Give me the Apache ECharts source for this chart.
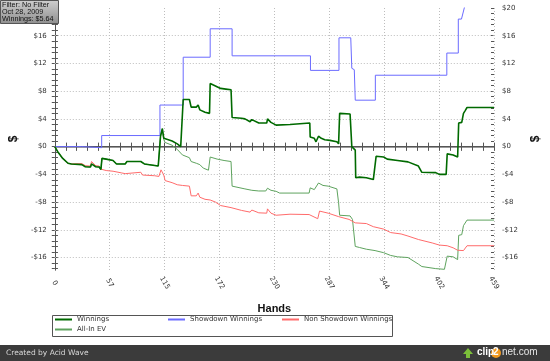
<!DOCTYPE html>
<html><head><meta charset="utf-8">
<script src="https://cdn.jsdelivr.net/npm/echarts@6/dist/echarts.min.js"></script>
<style>html,body{margin:0;padding:0;background:#fff}#c{width:550px;height:361px}</style>
</head><body><div id="c"></div><script>
// ---- data (hand, $) ----
const handTickCount = 8;
const handMax = 459;
const yLabelValues = [-16,-12,-8,-4,0,4,8,12,16,20];
const yLabelValuesLeft = [-16,-12,-8,-4,0,4,8,12,16];
const yGridValues = [-16,-12,-8,-4,4,8,12,16];

const winnings = [[0,0],[2.9,-0.7],[8.3,-1.7],[13.8,-2.4],[17.4,-2.5],[28.3,-2.6],[31.9,-2.9],[37.3,-2.95],[38.4,-2.5],[42.8,-2.9],[46.4,-2.95],[48.2,-3.3],[49.3,-1.7],[53.7,-1.8],[60.9,-2.0],[64.5,-2.5],[73.6,-2.5],[75.4,-2.15],[89.9,-2.15],[93.6,-2.5],[108.1,-2.8],[108.8,-2.8],[110.5,1.5],[112.4,2.6],[113.9,1.2],[115.3,1.0],[122.6,0.8],[128,0.4],[131.6,0],[133.4,0],[134.2,6.8],[140.7,6.8],[142.5,5.7],[147.9,5.7],[149.8,6.0],[151.6,5.3],[157,4.95],[161.7,4.8],[162.4,9.1],[167.9,8.75],[173.3,8.4],[178.8,8.3],[184.2,8.2],[185.3,4.2],[195.1,4.1],[198.7,4.0],[204.1,3.6],[205.9,3.9],[213.2,3.4],[221.5,3.4],[222.3,4.0],[225.9,3.5],[231.3,3.1],[245.8,3.2],[266.5,3.4],[266.9,1.4],[271.2,1.2],[273,0.7],[275.6,1.5],[278.5,1.2],[282.1,1.0],[287.5,0.9],[294.8,0.7],[296.6,0.4],[297.7,4.8],[308.6,4.7],[310.4,0],[314,-0.5],[314.5,-4.5],[318.4,-4.4],[325.6,-4.5],[332.9,-4.75],[334.7,-5.0],[335.8,-1.4],[343.7,-1.5],[347.4,-1.8],[358.2,-2.0],[369.1,-2.2],[380,-2.8],[383.6,-3.7],[398.1,-3.75],[401.8,-4.0],[409,-4.0],[410.1,-1.05],[416.3,-1.2],[421,-1.5],[422.1,3.4],[425.3,3.5],[427.1,4.8],[428.9,5.2],[430.8,5.64],[459,5.64]];

const showdown = [[0,0],[28.3,0],[28.3,-0.15],[49,-0.15],[49,1.6],[109.9,1.6],[109.9,6.0],[134.2,6.0],[134.2,12.9],[162.4,12.9],[162.4,17.0],[185.3,17.0],[185.3,13.1],[267.2,13.1],[267.2,11.0],[297,11.0],[297,15.7],[309.3,15.7],[310.4,11.3],[313,11.1],[314,6.7],[335,6.7],[335,10.3],[409.7,10.3],[409.7,13.5],[421.7,13.5],[421.7,18.4],[425,18.4],[428.5,20.3],[431,20.5],[459,20.5]];

const nonShowdown = [[0,0],[2.9,-0.7],[8.3,-1.7],[13.8,-2.4],[17.4,-2.5],[28.3,-2.45],[31.9,-2.75],[37.3,-2.8],[38.4,-2.15],[42.8,-2.75],[46.4,-2.8],[48.2,-3.25],[50,-3.25],[53.7,-3.45],[60.9,-3.55],[70,-3.8],[73.6,-3.9],[74.7,-3.7],[89.9,-3.7],[91.7,-4.1],[104.4,-4.2],[108.8,-4.3],[111,-3.35],[112.4,-3.25],[113.9,-4.1],[115.3,-4.9],[122.6,-5.2],[128,-5.5],[133.4,-5.6],[140.7,-5.7],[142.5,-7.1],[147.9,-7.1],[149.8,-6.7],[151.6,-7.3],[157,-7.6],[162.4,-7.7],[167.9,-8.0],[173.3,-8.5],[184.2,-8.8],[195.1,-9.2],[204.1,-9.45],[205.9,-9.15],[213.2,-9.55],[221.5,-9.6],[222.3,-8.98],[225.9,-9.6],[231.3,-9.9],[245.8,-9.75],[265.8,-9.8],[267.6,-9.65],[274.8,-10.4],[276.7,-9.3],[278.5,-9.45],[285.7,-9.6],[296.6,-10.1],[307.5,-10.5],[314,-11.0],[325.6,-11.1],[332.9,-11.55],[343.7,-11.9],[351,-12.4],[361.9,-12.6],[369.1,-12.9],[380,-13.4],[394.5,-13.9],[401.8,-14.2],[410.1,-14.3],[416.3,-14.6],[421,-14.95],[427.1,-15.0],[430.8,-14.3],[459,-14.3]];

const allInEV = [[0,0],[2.9,-0.7],[8.3,-1.7],[13.8,-2.4],[17.4,-2.5],[28.3,-2.6],[31.9,-2.9],[37.3,-2.95],[38.4,-2.5],[42.8,-2.9],[46.4,-2.95],[48.2,-3.3],[49.3,-1.7],[53.7,-1.8],[60.9,-2.0],[64.5,-2.5],[73.6,-2.5],[75.4,-2.15],[89.9,-2.15],[93.6,-2.5],[108.1,-2.8],[108.8,-2.8],[110.5,1.5],[112.4,2.6],[113.9,1.0],[115.3,0.6],[122.6,0.2],[128,-0.4],[133.4,-1.2],[140.7,-1.6],[142.5,-2.15],[147.9,-2.4],[149.8,-2.3],[151.6,-2.6],[155.2,-3.1],[160.6,-3.4],[161.7,-3.4],[162.4,-1.5],[169.7,-1.8],[176.9,-2.0],[184.2,-2.15],[185.3,-5.7],[198.7,-6.1],[205.9,-6.3],[213.2,-6.4],[220.5,-6.4],[222.3,-6.0],[225.9,-6.3],[231.3,-6.45],[235,-6.7],[265.8,-6.7],[266.9,-5.95],[271.2,-6.2],[275.6,-5.25],[280.3,-5.6],[285.7,-5.7],[294.8,-6.1],[296.6,-8.1],[297.7,-9.9],[308.6,-10.0],[311.1,-10.5],[314,-14.4],[318.4,-14.55],[325.6,-14.8],[334.7,-15.0],[336.5,-15.2],[343.7,-15.3],[351,-15.7],[358.2,-15.9],[369.1,-16.0],[380,-16.95],[383.6,-17.3],[398.1,-17.6],[407.2,-17.7],[410.1,-15.8],[416.3,-15.9],[421,-16.3],[422.1,-12.8],[425.3,-12.7],[427.1,-11.4],[430.8,-10.6],[459,-10.6]];

// ---- chart ----
const Y_MIN = -17.8, Y_MAX = 20;
const minorY = [];
for (let k = -22; k <= 25; k++) minorY.push(Math.round(k * 8) / 10);
const FONT = 'DejaVu Sans';
const money = v => (v < 0 ? '-$' : '$') + Math.abs(Math.round(v));

const xBase = {type:'value', min:0, max:handMax, interval:handMax/handTickCount};
const tickStyle = {color:'#555', width:1};

const chart = echarts.init(document.getElementById('c'), null, {renderer:'canvas'});
const series = [
  {name:'__grid', type:'line', data:[], symbol:'none', z:1, silent:true,
   markLine:{silent:true, symbol:['none','none'], animation:false, z:1, label:{show:false},
     data: yGridValues.map(v => ({yAxis:v, lineStyle:{color:'#bdbdbd', type:[1,2], width:1}}))
       .concat([{yAxis:0, lineStyle:{color:'#555', type:'solid', width:1}}])}},
  {name:'All-In EV', type:'line', data:allInEV, symbol:'none', z:3, lineStyle:{color:'#5ea35e', width:1}, itemStyle:{color:'#5ea35e'}},
  {name:'Non Showdown Winnings', type:'line', data:nonShowdown, symbol:'none', z:4, lineStyle:{color:'#ff6b6b', width:1}, itemStyle:{color:'#ff6b6b'}},
  {name:'Showdown Winnings', type:'line', data:showdown, symbol:'none', z:5, lineStyle:{color:'#6b6bff', width:1}, itemStyle:{color:'#6b6bff'}},
  {name:'Winnings', type:'line', data:winnings, symbol:'none', z:6, lineStyle:{color:'#006a00', width:1.6}, itemStyle:{color:'#006a00'}}
];

const legendBase = {orient:'horizontal', padding:0, icon:'rect', itemWidth:17, itemHeight:2,
  textStyle:{fontFamily:FONT, fontSize:7, color:'#333'}, selectedMode:false};

const boxFont = '7.2px "Liberation Sans"';

chart.setOption({
  animation:false,
  backgroundColor:'#fff',
  grid:{left:52, right:53, top:8, bottom:91},
  xAxis:[
    Object.assign({}, xBase, {position:'bottom',
      axisLine:{show:true, lineStyle:{color:'#9a9a9a', width:2}},
      axisTick:{show:true, length:4, lineStyle:tickStyle},
      minorTick:{show:true, splitNumber:5, length:4, lineStyle:tickStyle},
      splitLine:{show:true, lineStyle:{color:'#bdbdbd', type:[1,2]}},
      axisLabel:{fontFamily:FONT, fontSize:7, color:'#333', rotate:-60, align:'center', verticalAlign:'middle', margin:13,
        formatter:v => String(Math.round(v))},
      name:'Hands', nameLocation:'middle', nameGap:33,
      nameTextStyle:{fontFamily:'Liberation Sans', fontWeight:'bold', fontSize:11, color:'#111'}}),
    Object.assign({}, xBase, {position:'bottom',
      axisLine:{show:false}, axisLabel:{show:false}, splitLine:{show:false},
      axisTick:{show:true, inside:true, length:4, lineStyle:tickStyle},
      minorTick:{show:true, splitNumber:5, length:4, lineStyle:tickStyle}}),
    Object.assign({}, xBase, {position:'top',
      axisLine:{show:true, lineStyle:{color:'#555', width:1}}, axisLabel:{show:false}, splitLine:{show:false},
      axisTick:{show:true, inside:true, length:4, lineStyle:tickStyle},
      minorTick:{show:true, splitNumber:5, length:4, lineStyle:tickStyle}})
  ],
  yAxis:[
    {type:'value', position:'left', min:Y_MIN, max:Y_MAX,
      axisLine:{show:true, lineStyle:{color:'#555'}},
      axisTick:{show:true, length:3, customValues:minorY, lineStyle:tickStyle},
      axisLabel:{show:true, customValues:yLabelValuesLeft, formatter:money, fontFamily:FONT, fontSize:7, color:'#333', margin:8},
      splitLine:{show:false},
      name:'$', nameLocation:'middle', nameGap:31, nameRotate:90,
      nameTextStyle:{fontFamily:'Liberation Sans', fontWeight:'bold', fontSize:12, color:'#111'}},
    {type:'value', position:'left', min:Y_MIN, max:Y_MAX,
      axisLine:{show:false}, axisLabel:{show:false}, splitLine:{show:false},
      axisTick:{show:true, inside:true, length:3, customValues:minorY, lineStyle:tickStyle}},
    {type:'value', position:'right', min:Y_MIN, max:Y_MAX,
      axisLine:{show:true, lineStyle:{color:'#555'}},
      axisTick:{show:true, length:3, customValues:minorY, lineStyle:tickStyle},
      axisLabel:{show:true, customValues:yLabelValues, formatter:money, fontFamily:FONT, fontSize:7, color:'#333', margin:8},
      splitLine:{show:false},
      name:'$', nameLocation:'middle', nameGap:36, nameRotate:90,
      nameTextStyle:{fontFamily:'Liberation Sans', fontWeight:'bold', fontSize:12, color:'#111'}},
    {type:'value', position:'right', min:Y_MIN, max:Y_MAX,
      axisLine:{show:false}, axisLabel:{show:false}, splitLine:{show:false},
      axisTick:{show:true, inside:true, length:3, customValues:minorY, lineStyle:tickStyle}}
  ],
  legend:[
    Object.assign({}, legendBase, {data:['Winnings'], left:55, top:316}),
    Object.assign({}, legendBase, {data:['Showdown Winnings'], left:168, top:316}),
    Object.assign({}, legendBase, {data:['Non Showdown Winnings'], left:282, top:316}),
    Object.assign({}, legendBase, {data:['All-In EV'], left:55, top:326})
  ],
  series: series,
  graphic:[
    {type:'rect', z:100, shape:{x:52.5, y:315.5, width:340, height:21}, style:{fill:null, stroke:'#555', lineWidth:1}},
    {type:'rect', z:200, shape:{x:0.5, y:0.5, width:58, height:23},
      style:{fill:new echarts.graphic.LinearGradient(0,0,0,1,[{offset:0,color:'#cfcfcf'},{offset:1,color:'#8e8e8e'}]), stroke:'#555', lineWidth:1}},
    {type:'text', z:201, x:2, y:1.2, style:{text:'Filter: No Filter', font:boxFont, fill:'#111'}},
    {type:'text', z:201, x:2, y:8.7, style:{text:'Oct 28, 2009', font:boxFont, fill:'#111'}},
    {type:'text', z:201, x:2, y:16, style:{text:'Winnings: $5.64', font:boxFont, fill:'#111'}},
    {type:'rect', z:100, shape:{x:0, y:345, width:550, height:16}, style:{fill:'#3b3b3b'}},
    {type:'text', z:101, x:6, y:349, style:{text:'Created by Acid Wave', font:'7.5px "DejaVu Sans"', fill:'#d8d8d8'}},
    {type:'polygon', z:101, shape:{points:[[466,358],[466,354],[463,354],[468,348],[473,354],[470,354],[470,358]]}, style:{fill:'#7cbf3a'}},
    {type:'circle', z:101, shape:{cx:496, cy:353, r:5}, style:{fill:'#f39a1e'}},
    {type:'text', z:102, x:477, y:347.5, style:{text:'clip', font:'bold 10px "Liberation Sans"', fill:'#ffffff'}},
    {type:'text', z:102, x:493, y:347.5, style:{text:'2', font:'bold 10px "Liberation Sans"', fill:'#ffffff'}},
    {type:'text', z:102, x:502, y:347.5, style:{text:'net.com', font:'10px "Liberation Sans"', fill:'#e8e8e8'}}
  ]
});
</script></body></html>
